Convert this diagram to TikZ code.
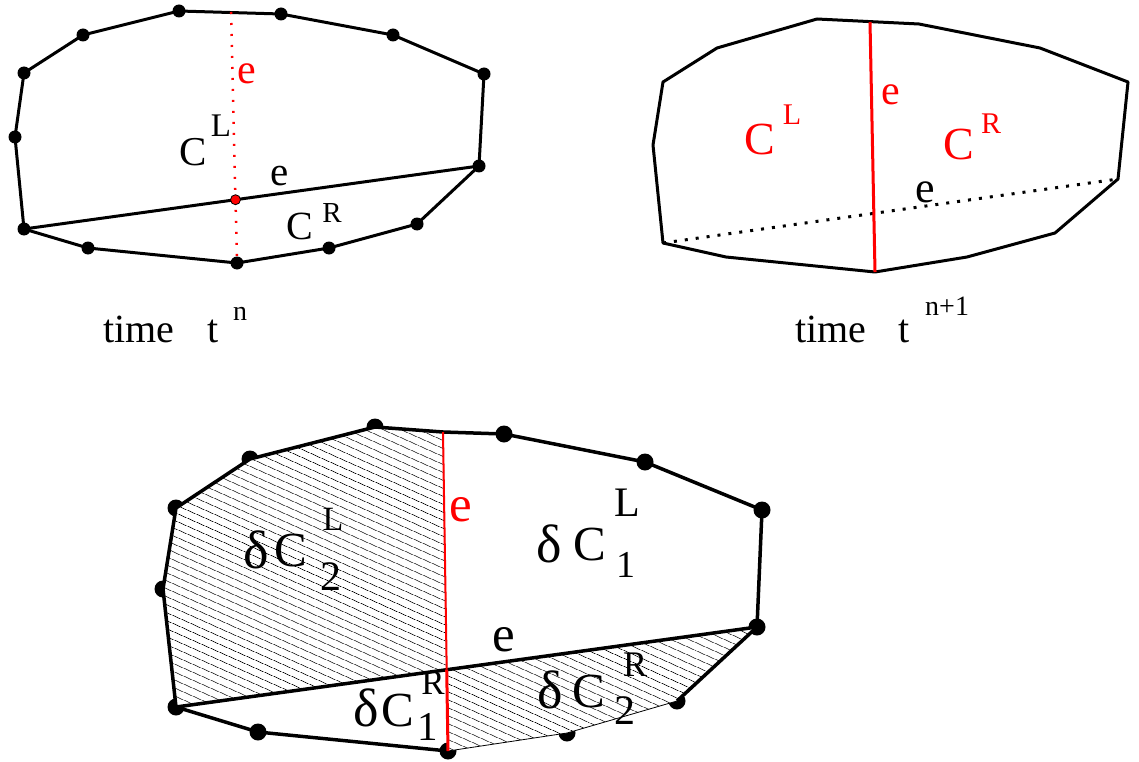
\documentclass[tikz,border=0pt]{standalone}
\usepackage{fontspec}
\setmainfont{Liberation Serif}
\usepackage{tikz}
\usetikzlibrary{patterns.meta}
\definecolor{FaceRed}{RGB}{255, 0, 0}

\begin{document}
\begin{tikzpicture}[
    x=1pt, y=-1pt,
    cell/.style = {line width=3pt, line join=round},
    bigcell/.style = {line width=3.5pt, line join=round},
    newface/.style = {draw=FaceRed, line width=3pt},
    oldface/.style = {draw=FaceRed, line width=2.5pt, dash pattern=on 2pt off 9pt},
    ghostface/.style = {draw=black, line width=3pt, dash pattern=on 3pt off 8pt},
    hatched/.style = {
        draw=black, line width=0.8pt, preaction={fill=white},
        pattern={Lines[angle=-24, distance=6.5pt, line width=0.8pt]}
    },
    lbl/.style = {inner sep=0pt, font=\fontsize{#1}{#1}\selectfont},
    lbl/.default = 40
]
\useasboundingbox (0,0) rectangle (1139,762);

% ===== TIME t^n =====
\coordinate (a1) at (179,11);   \coordinate (a2) at (281,14);
\coordinate (a3) at (393,35);   \coordinate (a4) at (484,74);
\coordinate (a5) at (479,166);  \coordinate (a6) at (417,224);
\coordinate (a7) at (329,248);  \coordinate (a8) at (237,263);
\coordinate (a9) at (88,248);   \coordinate (a10) at (24,229);
\coordinate (a11) at (15,137);  \coordinate (a12) at (24,73);
\coordinate (a13) at (83,35);   \coordinate (atop) at (231,12);

\draw[cell] (a1) -- (a2) -- (a3) -- (a4) -- (a5) -- (a6) -- (a7) -- (a8)
    -- (a9) -- (a10) -- (a11) -- (a12) -- (a13) -- cycle;
\draw[cell] (a10) -- (a5);
\draw[oldface] (atop) -- (a8);
\coordinate (across) at (intersection of atop--a8 and a10--a5);
\foreach \p in {a1,a2,a3,a4,a5,a6,a7,a8,a9,a10,a11,a12,a13}
    \fill (\p) circle (6.5pt);
\filldraw[fill=FaceRed, draw=black, line width=0.8pt] (across) circle (5pt);

\node[lbl=42, text=FaceRed] (aeL) at (247,74) {e};
\node[lbl=41] (aC1) at (193,152) {C};
\node[lbl=33] (aL) at (221,126) {L};
\node[lbl=41] (ae) at (280,176) {e};
\node[lbl=40] (aC2) at (300,226) {C};
\node[lbl=29] (aR) at (332,213) {R};

\node[lbl, anchor=base west] (time1) at (103,342) {time};
\node[lbl, anchor=base west] (t1) at (207,342) {t};
\node[lbl=28, anchor=base west] (n1) at (233,320) {n};

% ===== TIME t^{n+1} =====
\coordinate (c1) at (817,19);   \coordinate (c2) at (919,24);
\coordinate (c3) at (1040,48);  \coordinate (c4) at (1128,82);
\coordinate (c5) at (1118,179); \coordinate (c6) at (1055,233);
\coordinate (c7) at (967,257);  \coordinate (c8) at (875,272);
\coordinate (c9) at (726,257);  \coordinate (c10) at (663,243);
\coordinate (c11) at (653,145); \coordinate (c12) at (663,82);
\coordinate (c13) at (717,48);  \coordinate (ctop) at (870,22);

\draw[cell] (c1) -- (c2) -- (c3) -- (c4) -- (c5) -- (c6) -- (c7) -- (c8)
    -- (c9) -- (c10) -- (c11) -- (c12) -- (c13) -- cycle;
\draw[ghostface] (c10) -- (c5);
\draw[newface] (ctop) -- (c8);

\node[lbl=42, text=FaceRed] (ceL) at (891,95) {e};
\node[lbl=46, text=FaceRed] (cC1) at (760,139) {C};
\node[lbl=30, text=FaceRed] (cL) at (792,115) {L};
\node[lbl=46, text=FaceRed] (cC2) at (959,144) {C};
\node[lbl=30, text=FaceRed] (cR) at (991,124) {R};
\node[lbl=44] (ce) at (925,192) {e};

\node[lbl, anchor=base west] (time2) at (795,342) {time};
\node[lbl, anchor=base west] (t2) at (898,342) {t};
\node[lbl=28, anchor=base west] (n2) at (925,315) {n+1};

% ===== FLUX VOLUMES =====
\coordinate (b1) at (375,427);  \coordinate (btop) at (443,432);
\coordinate (b2) at (504,434);  \coordinate (b3) at (645,462);
\coordinate (b4) at (762,510);  \coordinate (b5) at (757,627);
\coordinate (b6) at (677,701);  \coordinate (b7) at (567,733);
\coordinate (b8) at (448,751);  \coordinate (b9) at (258,732);
\coordinate (b10) at (176,707); \coordinate (b11) at (163,589);
\coordinate (b12) at (176,508); \coordinate (b13) at (250,459);
\coordinate (bcross) at (intersection of btop--b8 and b10--b5);

\foreach \p in {b1,b2,b3,b4,b5,b6,b7,b8,b9,b10,b11,b12,b13}
    \fill (\p) circle (8.5pt);

\path[hatched] (btop) -- (b1) -- (b13) -- (b12) -- (b11) -- (b10) -- (bcross) -- cycle;
\path[hatched] (bcross) -- (b5) -- (b6) -- (b7) -- (b8) -- cycle;

\draw[bigcell] (b6) -- (b5) -- (b4) -- (b3) -- (b2) -- (btop) -- (b1)
    -- (b13) -- (b12) -- (b11) -- (b10) -- (b9) -- (b8);
\draw[bigcell] (b10) -- (b5);
\draw[draw=FaceRed, line width=2pt] (btop) -- (bcross);
\draw[newface] (bcross) -- (b8);

\node[lbl=51, text=FaceRed] (beL) at (461,510) {e};
\node[lbl=51] (be) at (504,640) {e};

\node[lbl=54] (d1) at (256,550) {δ};
\node[lbl=49] (C21) at (291,551) {C};
\node[lbl=42] (s21) at (331,577) {2};
\node[lbl=34] (p21) at (333,519) {L};

\node[lbl=54] (d2) at (549,544) {δ};
\node[lbl=49] (C11) at (590,545) {C};
\node[lbl=38] (s11) at (626,565) {1};
\node[lbl=42] (p11) at (627,503) {L};

\node[lbl=54] (d3) at (366,708) {δ};
\node[lbl=49] (C12) at (398,711) {C};
\node[lbl=41] (s12) at (428,727) {1};
\node[lbl=35] (p12) at (433,683) {R};

\node[lbl=54] (d4) at (550,690) {δ};
\node[lbl=49] (C22) at (589,692) {C};
\node[lbl=42] (s22) at (625,711) {2};
\node[lbl=36] (p22) at (635,665) {R};
\end{tikzpicture}
\end{document}
